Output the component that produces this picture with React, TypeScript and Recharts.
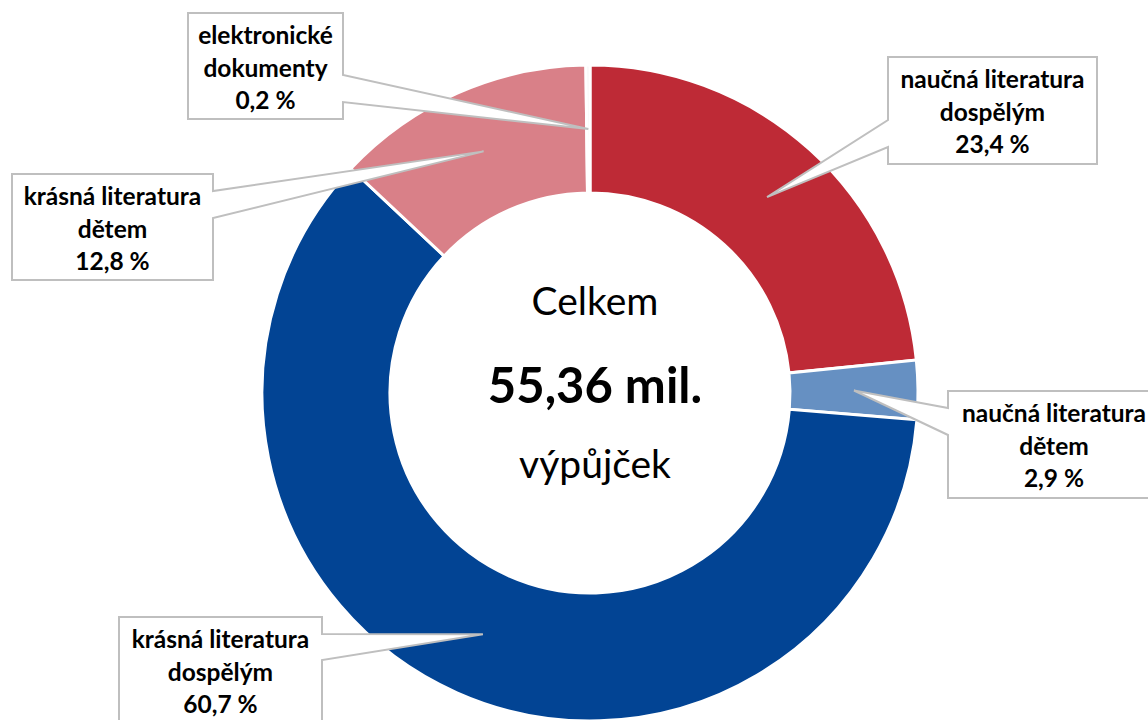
import { PieChart, Pie, Cell } from 'recharts';

// share of loans by document type (%)
const categories = [
  'naučná literatura dospělým',
  'naučná literatura dětem',
  'krásná literatura dospělým',
  'krásná literatura dětem',
  'elektronické dokumenty',
];
const shares = [23.4, 2.9, 60.7, 12.8, 0.2];
const sliceColors = ['#BE2A36', '#6690C2', '#024494', '#D98088', '#F4F4F4'];

const centerLines = ['Celkem', '55,36 mil.', 'výpůjček'];

// callout boxes: top-left corner, size, and where the pointer wedge leaves the box (a1, a2 = y offsets)
const calloutBoxes = [
  { x: 888, y: 57, w: 209, h: 107, side: 'left', a1: 63, a2: 90 },
  { x: 948, y: 391, w: 212, h: 107, side: 'left', a1: 17, a2: 44 },
  { x: 119, y: 617, w: 203, h: 107, side: 'right', a1: 17, a2: 43 },
  { x: 12, y: 174, w: 201, h: 106, side: 'right', a1: 17, a2: 44 },
  { x: 188, y: 13, w: 155, h: 106, side: 'right', a1: 62, a2: 89 },
];

const data = categories.map((name, i) => ({ name, value: shares[i] }));

const FONT = 'Lato, "Open Sans", sans-serif';
const RADIAN = Math.PI / 180;

const fmt = (v: number) => v.toFixed(1).replace('.', ',') + ' %';

function splitName(name: string) {
  const k = name.lastIndexOf(' ');
  return [name.slice(0, k), name.slice(k + 1)];
}

function renderCallout(props: any) {
  const { cx, cy, midAngle, innerRadius, outerRadius, index } = props;
  const box = calloutBoxes[index];
  const r = (innerRadius + outerRadius) / 2;
  const tx = cx + r * Math.cos(-midAngle * RADIAN);
  const ty = cy + r * Math.sin(-midAngle * RADIAN);
  const L = box.x;
  const T = box.y;
  const R = box.x + box.w;
  const B = box.y + box.h;
  const y1 = T + box.a1;
  const y2 = T + box.a2;
  const d =
    box.side === 'right'
      ? `M${L},${T} H${R} V${y1} L${tx},${ty} L${R},${y2} V${B} H${L} Z`
      : `M${L},${T} H${R} V${B} H${L} V${y2} L${tx},${ty} L${L},${y1} Z`;
  const lines = [...splitName(data[index].name), fmt(data[index].value)];
  const midX = (L + R) / 2;
  return (
    <g key={`callout-${index}`}>
      <path d={d} fill="#FFFFFF" stroke="#BFBFBF" strokeWidth={2} strokeLinejoin="miter" />
      {lines.map((t, i) => (
        <text
          key={i}
          x={midX}
          y={T + 31 + i * 32.5}
          textAnchor="middle"
          fontFamily={FONT}
          fontWeight={700}
          fontSize={24.5}
          fill="#000000"
        >
          {t}
        </text>
      ))}
    </g>
  );
}

export default function App() {
  return (
    <div style={{ position: 'absolute', left: 0, top: 0, width: 1148, height: 720, background: '#FFFFFF' }}>
      <PieChart width={1148} height={720} margin={{ top: 0, right: 0, bottom: 0, left: 0 }}>
        <Pie
          data={data}
          dataKey="value"
          nameKey="name"
          cx={590}
          cy={393}
          innerRadius={200}
          outerRadius={328}
          startAngle={90}
          endAngle={-270}
          stroke="#FFFFFF"
          strokeWidth={3}
          label={renderCallout}
          labelLine={false}
          isAnimationActive={false}
        >
          {data.map((_, i) => (
            <Cell key={`cell-${i}`} fill={sliceColors[i]} />
          ))}
        </Pie>
        <text x={595} y={315} textAnchor="middle" fontFamily={FONT} fontSize={39} fill="#000000">
          {centerLines[0]}
        </text>
        <text x={595} y={403} textAnchor="middle" fontFamily={FONT} fontWeight={700} fontSize={49} fill="#000000">
          {centerLines[1]}
        </text>
        <text x={595} y={478} textAnchor="middle" fontFamily={FONT} fontSize={39} fill="#000000">
          {centerLines[2]}
        </text>
      </PieChart>
    </div>
  );
}
